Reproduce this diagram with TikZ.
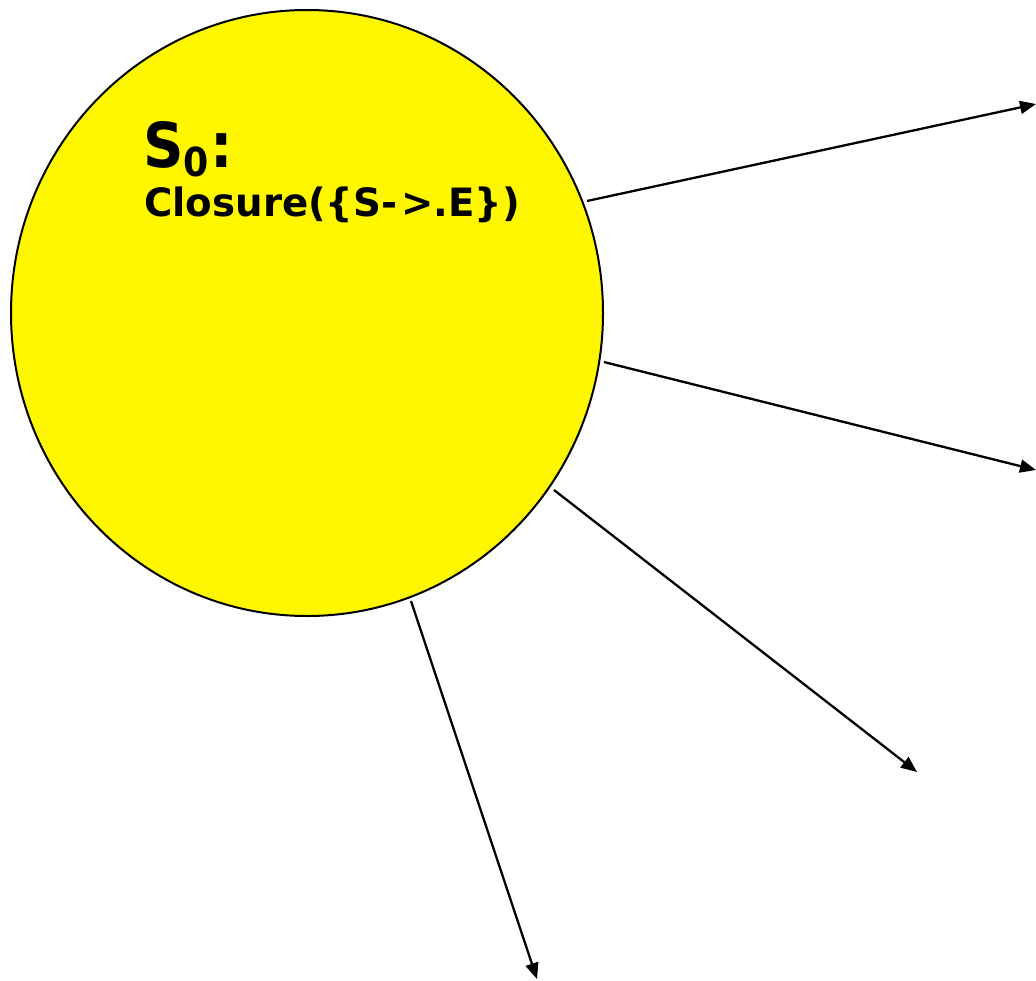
\documentclass[tikz,border=0pt]{standalone}
\usepackage{fontspec}
\setmainfont{DejaVu Sans}
\usetikzlibrary{arrows.meta}
\definecolor{sunyellow}{RGB}{255,247,0}
\begin{document}
\begin{tikzpicture}[x=1pt,y=-1pt,
  arr/.style={line width=2.3pt,-{Triangle[length=16pt,width=13pt]}},
  lbl/.style={anchor=base west,inner sep=0pt,font=\bfseries}]
\useasboundingbox (0,0) rectangle (1036,980);
\fill[sunyellow,draw=black,line width=2pt] (307,313) ellipse [x radius=296,y radius=303];
\node[draw=none,inner sep=0pt,minimum width=592pt,minimum height=606pt] (s0) at (307,313) {};
\node[lbl] (t1) at (143,167) {\resizebox{90pt}{\height}{\fontsize{62}{62}\selectfont\bfseries S\raisebox{-9pt}{\fontsize{40}{40}\selectfont 0}\kern2pt:}};
\node[lbl] (t2) at (144,216) {\resizebox{376pt}{\height}{\fontsize{39}{39}\selectfont\bfseries Closure(\{S-\kern4pt>.E\})}};
\coordinate (a1) at (587,201);
\coordinate (b1) at (1036,104);
\coordinate (a2) at (604,362);
\coordinate (b2) at (1036,470);
\coordinate (a3) at (554,490);
\coordinate (b3) at (917,772);
\coordinate (a4) at (411,601);
\coordinate (b4) at (537,979);
\draw[arr] (a1) -- (b1);
\draw[arr] (a2) -- (b2);
\draw[arr] (a3) -- (b3);
\draw[arr] (a4) -- (b4);
\end{tikzpicture}
\end{document}
